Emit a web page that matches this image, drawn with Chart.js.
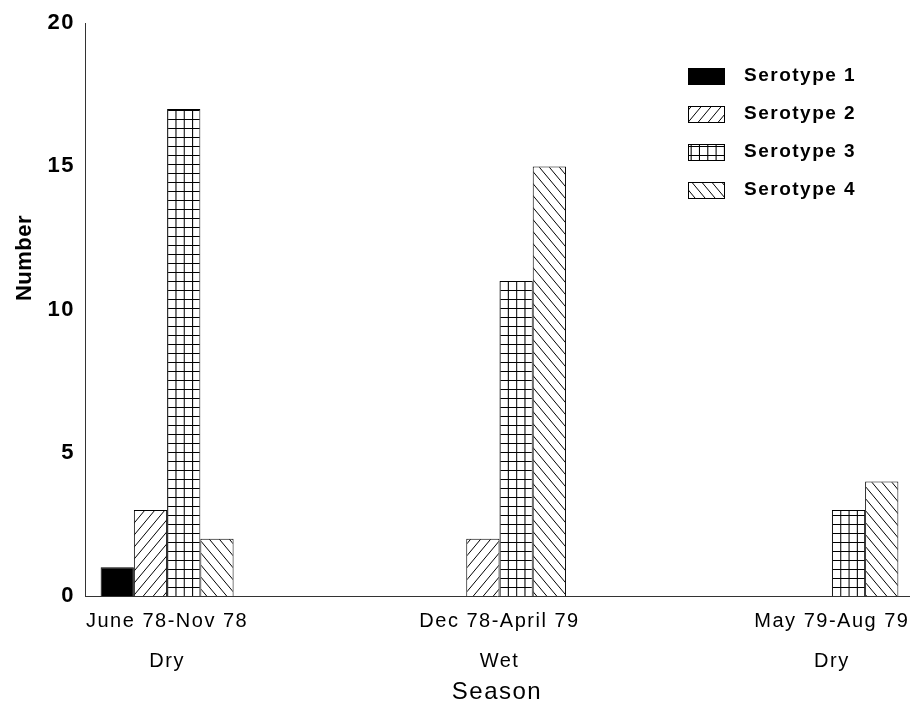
<!DOCTYPE html>
<html>
<head>
<meta charset="utf-8">
<script src="https://cdn.jsdelivr.net/npm/chart.js@4.4.1/dist/chart.umd.min.js"></script>
<style>
  html, body { margin: 0; padding: 0; background: #fff; }
  #wrap { width: 910px; height: 703px; position: relative; }
</style>
</head>
<body>
<div id="wrap"><canvas id="serChart"></canvas></div>
<script>
// season groups (two-line tick labels)
const seasons = [["June 78-Nov 78", "Dry"], ["Dec 78-April 79", "Wet"], ["May 79-Aug 79", "Dry"]];
const serotypeNames = ["Serotype 1", "Serotype 2", "Serotype 3", "Serotype 4"];
const serotype1 = [1, 0, 0];
const serotype2 = [3, 2, 0];
const serotype3 = [17, 11, 3];
const serotype4 = [2, 15, 4];
const yTicks = [0, 5, 10, 15, 20];

const fontFamily = "'Liberation Sans', Arial, Helvetica, sans-serif";
Chart.defaults.font.family = fontFamily;
Chart.defaults.color = "#000";

const ctx = document.getElementById("serChart").getContext("2d");

// hatch fills, black on white
function makePattern(w, h, draw) {
    const c = document.createElement("canvas");
    c.width = w;
    c.height = h;
    const g = c.getContext("2d");
    g.fillStyle = "#fff";
    g.fillRect(0, 0, w, h);
    g.strokeStyle = "#000";
    g.lineWidth = 1;
    g.beginPath();
    draw(g, w, h);
    g.stroke();
    return ctx.createPattern(c, "repeat");
}

const hatchUp = makePattern(10, 12, (g, w, h) => {
    g.moveTo(0, h); g.lineTo(w, 0);
    g.moveTo(-w / 2, h / 2); g.lineTo(w / 2, -h / 2);
    g.moveTo(w / 2, h * 1.5); g.lineTo(w * 1.5, h / 2);
});
const hatchDown = makePattern(10, 12, (g, w, h) => {
    g.moveTo(0, 0); g.lineTo(w, h);
    g.moveTo(w / 2, -h / 2); g.lineTo(w * 1.5, h / 2);
    g.moveTo(-w / 2, h / 2); g.lineTo(w / 2, h * 1.5);
});
const gridFill = makePattern(8, 9, (g, w, h) => {
    g.moveTo(0.5, 0); g.lineTo(0.5, h);
    g.moveTo(0, 0.5); g.lineTo(w, 0.5);
});

const fills = ["#000", hatchUp, gridFill, hatchDown];
const values = [serotype1, serotype2, serotype3, serotype4];

// keep letter spacing like the typeset original
const spacing = {
    id: "spacing",
    beforeUpdate(chart) { chart.ctx.letterSpacing = "1.5px"; },
    beforeDraw(chart) { chart.ctx.letterSpacing = "1.5px"; }
};

// line the grid pattern up with the bar edges (4 columns per bar)
const alignGrid = {
    id: "alignGrid",
    beforeDatasetsDraw(chart) {
        const bar = chart.getDatasetMeta(2).data[0];
        const left = bar.x - bar.width / 2;
        const base = chart.scales.y.getPixelForValue(0);
        gridFill.setTransform(new DOMMatrix().translate(left, base).scale(bar.width / 32, 1));
    }
};

// legend box top right + rotated y title
const extras = {
    id: "extras",
    afterDraw(chart) {
        const c = chart.ctx;
        c.save();
        c.letterSpacing = "1.5px";
        c.font = "bold 19px " + fontFamily;
        c.textBaseline = "middle";
        chart.data.datasets.forEach((ds, i) => {
            const y = 76 + i * 38;
            c.fillStyle = ds.backgroundColor;
            c.fillRect(688, y - 8, 37, 17);
            c.strokeStyle = "#000";
            c.lineWidth = 1;
            c.strokeRect(688.5, y - 7.5, 36, 16);
            c.fillStyle = "#000";
            c.fillText(ds.label, 744, y);
        });

        c.translate(25, 258);
        c.rotate(-Math.PI / 2);
        c.textAlign = "center";
        c.letterSpacing = "0.5px";
        c.font = "bold 22px " + fontFamily;
        c.fillText("Number", 0, 0);
        c.restore();
    }
};

new Chart(ctx, {
    type: "bar",
    data: {
        datasets: serotypeNames.map((name, k) => ({
            label: name,
            data: values[k].map((v, i) => ({ x: i, y: v })),
            backgroundColor: fills[k],
            borderColor: "#000",
            borderWidth: 1,
            categoryPercentage: 0.4,
            barPercentage: 1
        }))
    },
    options: {
        responsive: true,
        maintainAspectRatio: false,
        animation: false,
        layout: { padding: { top: 23, right: 1, left: 0, bottom: 0 } },
        plugins: {
            legend: { display: false },
            tooltip: { enabled: false }
        },
        scales: {
            x: {
                type: "linear",
                offset: false,
                min: -0.247,
                max: 2.232,
                grid: { display: false, drawTicks: false },
                border: { display: true, color: "#333", width: 1 },
                afterBuildTicks: (s) => { s.ticks = seasons.map((_, i) => ({ value: i })); },
                afterFit: (s) => {
                    s.height = 107;
                    s.paddingLeft = 0;
                    s.paddingRight = 0;
                },
                ticks: {
                    callback: (v) => seasons[v],
                    color: "#000",
                    padding: 5,
                    maxRotation: 0,
                    autoSkip: false,
                    font: { size: 20, lineHeight: 2.0 }
                },
                title: {
                    display: true,
                    text: "Season",
                    color: "#000",
                    font: { size: 24, lineHeight: 0.85 },
                    padding: 0
                }
            },
            y: {
                min: 0,
                max: 20,
                grid: { display: false, drawTicks: false },
                border: { display: true, color: "#333", width: 1 },
                afterBuildTicks: (s) => { s.ticks = yTicks.map((v) => ({ value: v })); },
                afterFit: (s) => { s.width = 85; },
                ticks: { color: "#000", padding: 10, font: { size: 22, weight: "bold" } }
            }
        }
    },
    plugins: [spacing, alignGrid, extras]
});
</script>
</body>
</html>
